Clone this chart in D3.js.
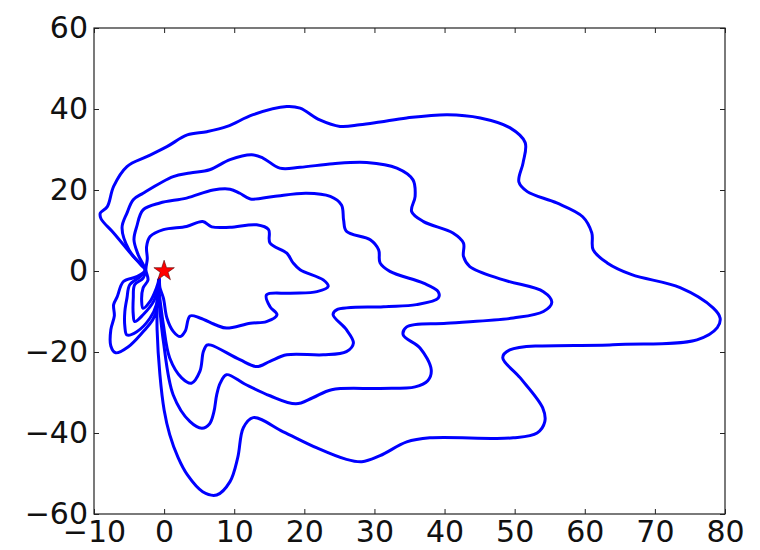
<!DOCTYPE html>
<meta charset="utf-8">
<script src="https://d3js.org/d3.v7.min.js"></script>
<style>
  body { margin: 0; background: #fff; }
</style>
<div id="chart"></div>
<script>

// tick values for both axes
var xTicks = [-10, 0, 10, 20, 30, 40, 50, 60, 70, 80]
var yTicks = [-60, -40, -20, 0, 20, 40, 60]

// start point (red star)
var start = [[0, 0]]

// four closed contours, innermost first
var contour1 = [[-2.6,0.3],[-2.3,-2.2],[-3.0,-4.2],[-3.2,-7.5],[-3.0,-9.2],[-2.0,-7.5],[-1.3,-5.1],
  [-0.9,-3.2],[-0.7,-1.9],[-0.6,-4.1],[-0.1,-6.7],[0.4,-11.6],[1.3,-14.9],[2.3,-16.2],[3.0,-14.9],
  [3.7,-11.1],[5.1,-11.6],[7.5,-13.4],[8.9,-14.1],[12.3,-12.9],[14.6,-12.5],[16.1,-10.8],[15.1,-8.8],
  [14.6,-5.9],[18.0,-5.5],[21.8,-5.1],[23.4,-3.8],[22.7,-2.2],[19.4,0.3],[18.4,2.0],[17.5,4.4],
  [15.1,6.9],[14.9,10.2],[13.2,11.4],[9.4,10.8],[6.8,10.9],[5.5,12.2],[3.2,11.0],[-0.1,10.2],
  [-2.0,8.5],[-2.5,6.0],[-2.4,3.0]]

var contour2 = [[-2.7,0.3],[-3.0,-1.8],[-4.2,-3.4],[-4.4,-6.7],[-4.4,-10.8],[-4.2,-12.5],[-3.0,-10.8],
  [-1.5,-7.5],[-0.9,-4.1],[-0.7,-1.9],[-0.7,-5.1],[-0.4,-9.6],[-0.1,-13.3],[0.8,-21.5],[2.5,-26.4],
  [3.9,-27.7],[5.1,-24.8],[5.6,-19.9],[6.1,-18.3],[6.7,-18.3],[10.8,-21.9],[13.2,-23.6],[15.1,-22.3],
  [17.5,-20.7],[22.7,-20.7],[26.0,-19.9],[27.0,-17.8],[26.0,-14.5],[24.1,-10.8],[24.6,-9.6],
  [31.3,-8.8],[36.0,-8.3],[39.1,-6.7],[39.1,-5.1],[37.0,-3.0],[32.2,-0.1],[30.8,2.0],[30.6,5.2],
  [29.4,7.7],[26.0,9.8],[25.6,12.6],[25.3,16.3],[23.7,18.4],[20.3,19.2],[15.6,18.4],[12.3,17.8],
  [10.8,19.2],[9.4,20.2],[7.0,20.0],[3.2,18.0],[-0.6,16.8],[-3.0,15.1],[-3.9,11.0],[-4.3,7.7],[-3.7,4.0]]

var contour3 = [[-2.7,0.3],[-3.4,-1.4],[-4.9,-3.4],[-5.3,-6.7],[-5.6,-10.0],[-5.6,-13.7],[-5.3,-15.8],
  [-3.9,-15.0],[-2.0,-11.6],[-1.1,-8.3],[-0.9,-4.6],[-0.7,-1.9],[-0.8,-5.1],[-0.6,-9.6],[-0.1,-17.4],
  [1.3,-30.6],[3.7,-37.2],[5.4,-38.8],[6.5,-37.7],[7.1,-34.8],[7.5,-30.6],[8.0,-27.7],[8.9,-25.6],
  [11.5,-27.9],[15.1,-30.8],[18.8,-32.8],[21.2,-31.3],[23.9,-29.3],[30.8,-29.0],[35.8,-28.6],
  [37.6,-27.1],[38.1,-24.4],[36.5,-19.0],[34.1,-15.8],[34.6,-13.8],[40.3,-12.9],[49.8,-11.6],
  [54.1,-10.0],[55.3,-7.7],[54.1,-5.1],[48.4,-2.2],[43.6,1.1],[42.7,3.6],[42.7,6.9],[41.2,9.4],
  [37.0,12.2],[35.3,14.7],[35.8,18.4],[35.5,22.5],[33.2,25.4],[28.9,26.8],[24.1,26.5],[19.4,25.6],
  [16.5,25.4],[14.1,27.9],[12.5,28.7],[9.4,27.5],[6.5,25.0],[3.7,24.2],[1.3,23.3],[-3.0,19.2],
  [-4.4,17.6],[-5.3,14.3],[-6.0,10.7],[-5.0,5.2],[-3.2,1.3]]

var contour4 = [[-2.7,0.3],[-3.9,-1.4],[-5.8,-2.6],[-6.7,-6.4],[-7.2,-8.3],[-7.1,-11.1],[-7.6,-14.5],
  [-7.6,-18.5],[-6.9,-20.2],[-5.1,-18.7],[-3.0,-15.0],[-1.6,-12.0],[-0.9,-8.6],[-0.8,-4.6],[-0.7,-1.9],
  [-0.9,-5.1],[-1.0,-9.6],[-1.0,-14.5],[-0.6,-25.6],[0.0,-34.3],[0.8,-40.4],[2.0,-46.1],[3.3,-50.3],
  [5.5,-54.5],[7.5,-55.3],[9.4,-52.0],[10.5,-46.1],[11.3,-38.7],[12.7,-36.2],[17.0,-39.7],[21.8,-43.7],
  [25.8,-46.4],[28.2,-47.1],[30.8,-45.6],[34.6,-42.2],[37.9,-41.2],[49.8,-41.2],[53.2,-40.0],
  [54.3,-37.2],[54.0,-33.8],[50.8,-26.4],[48.3,-21.4],[49.3,-19.5],[64.0,-18.2],[76.0,-17.0],
  [78.9,-14.0],[79.3,-11.6],[78.3,-9.1],[73.6,-4.1],[66.7,-0.9],[63.2,2.0],[61.2,5.2],[61.0,9.4],
  [59.7,13.4],[56.0,16.8],[51.8,19.6],[50.6,22.0],[51.2,26.7],[51.5,31.7],[49.3,35.4],[45.1,37.8],
  [40.4,38.6],[34.6,37.8],[30.8,36.8],[27.9,36.1],[25.1,35.7],[22.2,37.3],[19.4,40.2],[17.5,40.6],
  [12.7,38.6],[9.0,35.7],[6.1,34.4],[3.3,33.6],[0.4,30.7],[-2.4,28.3],[-5.3,25.8],[-7.2,20.9],
  [-8.1,15.9],[-9.1,14.3],[-9.0,12.9],[-7.2,9.4],[-4.4,3.6]]

var contours = [contour1, contour2, contour3, contour4]

var width = 760
var height = 550

var svg = d3.select("#chart")
  .append("svg")
    .attr("width", width)
    .attr("height", height)

var x = d3.scaleLinear()
  .domain([-10, 80])
  .range([94, 725])

var y = d3.scaleLinear()
  .domain([-60, 60])
  .range([514, 28])

// contours
var line = d3.line()
  .x(function(d){ return x(d[0]) })
  .y(function(d){ return y(d[1]) })
  .curve(d3.curveCatmullRomClosed.alpha(0.5))

svg.append("g")
  .selectAll("path")
  .data(contours)
  .enter()
  .append("path")
    .attr("d", line)
    .attr("fill", "none")
    .attr("stroke", "#0000ff")
    .attr("stroke-width", 3)
    .attr("stroke-linejoin", "round")

// red star at the start point
svg.append("g")
  .selectAll("path")
  .data(start)
  .enter()
  .append("path")
    .attr("transform", function(d){ return "translate(" + x(d[0]) + "," + y(d[1]) + ")" })
    .attr("d", d3.symbol().type(d3.symbolStar).size(130))
    .attr("fill", "#ff0000")
    .attr("stroke", "#550000")
    .attr("stroke-width", 0.6)

// frame
svg.append("rect")
  .attr("x", 94)
  .attr("y", 28)
  .attr("width", 725 - 94)
  .attr("height", 514 - 28)
  .attr("fill", "none")
  .attr("stroke", "#222")
  .attr("stroke-width", 1.2)

// axes, ticks pointing inward
function styleAxis(g) {
  g.select(".domain").remove()
  g.selectAll(".tick line").attr("stroke", "#222")
  g.selectAll("text")
    .attr("fill", "#111")
    .style("font-family", "DejaVu Sans, sans-serif")
    .style("font-size", "30px")
}

svg.append("g")
  .attr("transform", "translate(0,514)")
  .call(d3.axisBottom(x).tickValues(xTicks).tickSizeInner(-5).tickSizeOuter(0).tickPadding(7))
  .call(styleAxis)

svg.append("g")
  .attr("transform", "translate(94,0)")
  .call(d3.axisLeft(y).tickValues(yTicks).tickSizeInner(-5).tickSizeOuter(0).tickPadding(6))
  .call(styleAxis)

svg.append("g")
  .attr("transform", "translate(0,28)")
  .call(d3.axisTop(x).tickValues(xTicks).tickSizeInner(-5).tickSizeOuter(0).tickFormat(""))
  .call(styleAxis)

svg.append("g")
  .attr("transform", "translate(725,0)")
  .call(d3.axisRight(y).tickValues(yTicks).tickSizeInner(-5).tickSizeOuter(0).tickFormat(""))
  .call(styleAxis)

</script>
